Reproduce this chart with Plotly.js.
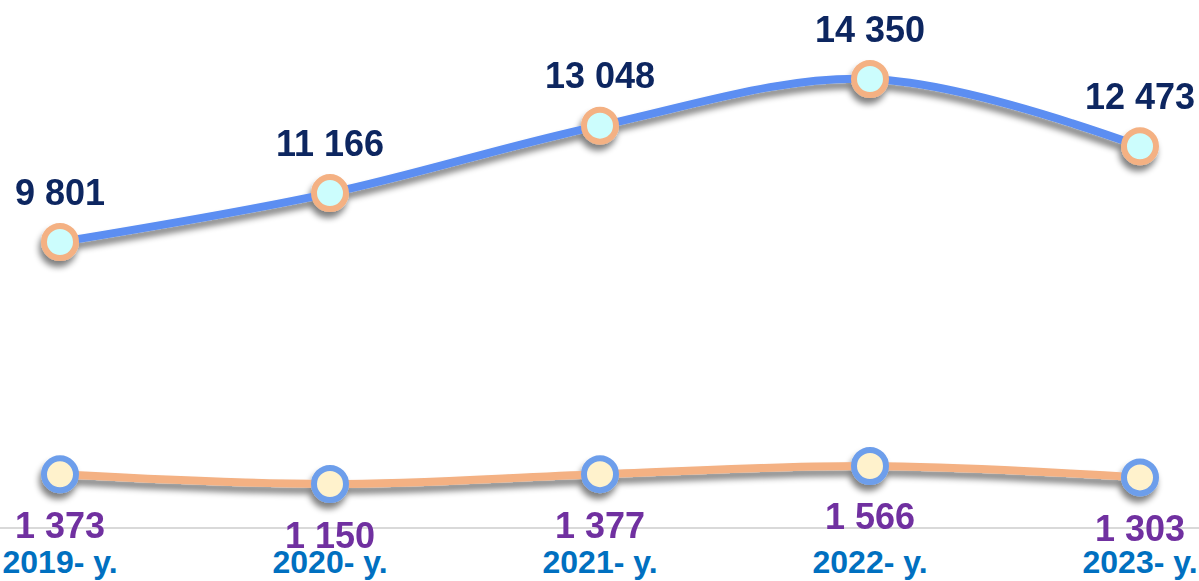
<!DOCTYPE html>
<html>
<head>
<meta charset="utf-8">
<script src="https://cdn.plot.ly/plotly-3.0.1.min.js"></script>
<style>
html,body{margin:0;padding:0;background:#fff;}
#chart{width:1199px;height:581px;}
</style>
</head>
<body>
<div id="chart"></div>
<script>
const years = ["2019- y.", "2020- y.", "2021- y.", "2022- y.", "2023- y."];
const seriesTop = [9801, 11166, 13048, 14350, 12473];
const seriesBottom = [1373, 1150, 1377, 1566, 1303];

function fmt(v){ return String(v).replace(/\B(?=(\d{3})+(?!\d))/g, " "); }

const idx = years.map((_, i) => i);

const traces = [
  {
    x: idx, y: seriesTop, type: "scatter", mode: "lines+markers",
    line: {color: "#5b8ef2", width: 8, shape: "spline", smoothing: 1},
    marker: {size: 32, color: "#ccfdfd", line: {color: "#f4b183", width: 6}},
    hoverinfo: "skip", yaxis: "y"
  },
  {
    x: idx, y: seriesBottom, type: "scatter", mode: "lines+markers",
    line: {color: "#f4b183", width: 8, shape: "spline", smoothing: 1},
    marker: {size: 32, color: "#fff2cc", line: {color: "#6d9eeb", width: 6}},
    hoverinfo: "skip", yaxis: "y2"
  }
];

const annotations = [];
seriesTop.forEach((v, i) => annotations.push({
  x: i, y: v, xref: "x", yref: "y", text: fmt(v), showarrow: false,
  yshift: 50, yanchor: "middle", xanchor: "center",
  font: {family: "Liberation Sans, Arial, sans-serif", size: 36, color: "#0d2660", weight: 700}
}));
seriesBottom.forEach((v, i) => annotations.push({
  x: i, y: v, xref: "x", yref: "y2", text: fmt(v), showarrow: false,
  yshift: -51, yanchor: "middle", xanchor: "center", borderpad: 0,
  font: {family: "Liberation Sans, Arial, sans-serif", size: 36, color: "#7030a0", weight: 700}
}));

const layout = {
  width: 1199, height: 581,
  margin: {l: 0, r: 0, t: 0, b: 54},
  paper_bgcolor: "#ffffff", plot_bgcolor: "#ffffff",
  showlegend: false,
  xaxis: {
    range: [-60/270, 4 + 59/270],
    tickvals: idx, ticktext: years,
    showgrid: false, zeroline: false,
    showline: true, linecolor: "#d9d9d9", linewidth: 2,
    ticks: "", ticklabelstandoff: 6,
    tickfont: {family: "Liberation Sans, Arial, sans-serif", size: 32, color: "#0070c0", weight: 700},
    fixedrange: true
  },
  yaxis: {range: [1847, 16555], visible: false, fixedrange: true},
  yaxis2: {range: [157, 12328], overlaying: "y", visible: false, fixedrange: true},
  annotations: annotations
};

Plotly.newPlot("chart", traces, layout, {staticPlot: true, displayModeBar: false}).then(function(gd){
  const svg = gd.querySelector(".main-svg");
  const ns = "http://www.w3.org/2000/svg";
  let defs = svg.querySelector("defs");
  if (!defs) { defs = document.createElementNS(ns, "defs"); svg.insertBefore(defs, svg.firstChild); }
  const f = document.createElementNS(ns, "filter");
  f.setAttribute("id", "shd");
  f.setAttribute("filterUnits", "userSpaceOnUse");
  f.setAttribute("x", "-200"); f.setAttribute("y", "-200");
  f.setAttribute("width", "1600"); f.setAttribute("height", "1000");
  f.innerHTML = '<feGaussianBlur in="SourceAlpha" stdDeviation="3"/>' +
    '<feOffset dx="-2" dy="6" result="o"/>' +
    '<feComponentTransfer><feFuncA type="linear" slope="0.5"/></feComponentTransfer>' +
    '<feMerge><feMergeNode/><feMergeNode in="SourceGraphic"/></feMerge>';
  defs.appendChild(f);
  gd.querySelectorAll(".scatterlayer .trace").forEach(function(g){ g.setAttribute("filter", "url(#shd)"); });
});
</script>
</body>
</html>
